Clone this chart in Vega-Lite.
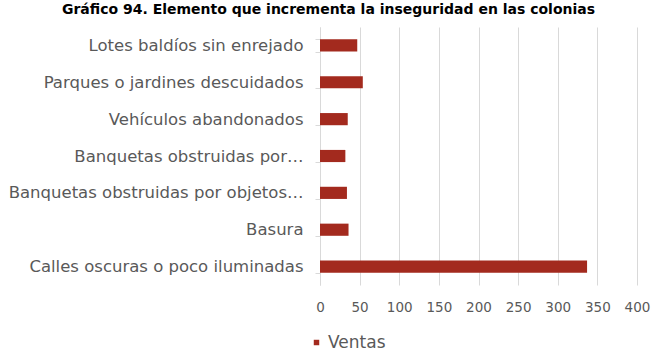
{
  "$schema": "https://vega.github.io/schema/vega-lite/v6.json",
  "autosize": "none",
  "width": 317,
  "height": 258,
  "padding": {"left": 320, "top": 27, "right": 23, "bottom": 71},
  "background": "white",
  "title": {
    "text": "Gráfico 94. Elemento que incrementa la inseguridad en las colonias",
    "font": "DejaVu Sans",
    "fontSize": 14,
    "fontWeight": "bold",
    "color": "#000000",
    "anchor": "middle",
    "frame": "group",
    "baseline": "alphabetic",
    "offset": -9,
    "dx": -150
  },
  "data": {
    "values": [
      {"elemento": "Lotes baldíos sin enrejado", "serie": "Ventas", "valor": 47},
      {"elemento": "Parques o jardines descuidados", "serie": "Ventas", "valor": 54},
      {"elemento": "Vehículos abandonados", "serie": "Ventas", "valor": 35},
      {"elemento": "Banquetas obstruidas por…", "serie": "Ventas", "valor": 32},
      {"elemento": "Banquetas obstruidas por objetos…", "serie": "Ventas", "valor": 34},
      {"elemento": "Basura", "serie": "Ventas", "valor": 36},
      {"elemento": "Calles oscuras o poco iluminadas", "serie": "Ventas", "valor": 337}
    ]
  },
  "mark": {"type": "bar"},
  "encoding": {
    "y": {
      "field": "elemento",
      "type": "nominal",
      "sort": null,
      "scale": {"paddingInner": 0.67, "paddingOuter": 0.335},
      "axis": {
        "title": null,
        "domain": true,
        "domainColor": "#d9d9d9",
        "ticks": true,
        "tickColor": "#d9d9d9",
        "tickSize": 5,
        "tickBand": "extent",
        "labelFont": "DejaVu Sans",
        "labelFontSize": 16.5,
        "labelColor": "#595959",
        "labelPadding": 12,
        "labelLimit": 320,
        "grid": false
      }
    },
    "x": {
      "field": "valor",
      "type": "quantitative",
      "scale": {"domain": [0, 400], "nice": false},
      "axis": {
        "title": null,
        "values": [0, 50, 100, 150, 200, 250, 300, 350, 400],
        "labelOverlap": false,
        "labelFlush": false,
        "domain": false,
        "ticks": false,
        "grid": true,
        "gridColor": "#d9d9d9",
        "labelFont": "DejaVu Sans",
        "labelFontSize": 13.5,
        "labelColor": "#595959",
        "labelPadding": 15
      }
    },
    "color": {
      "field": "serie",
      "type": "nominal",
      "scale": {"range": ["#A32A1E"]},
      "legend": {
        "title": null,
        "orient": "none",
        "legendX": -12,
        "legendY": 307,
        "symbolType": "square",
        "symbolSize": 30,
        "labelFont": "DejaVu Sans",
        "labelFontSize": 17,
        "labelColor": "#595959",
        "labelOffset": 3
      }
    }
  },
  "config": {"view": {"stroke": null}}
}
